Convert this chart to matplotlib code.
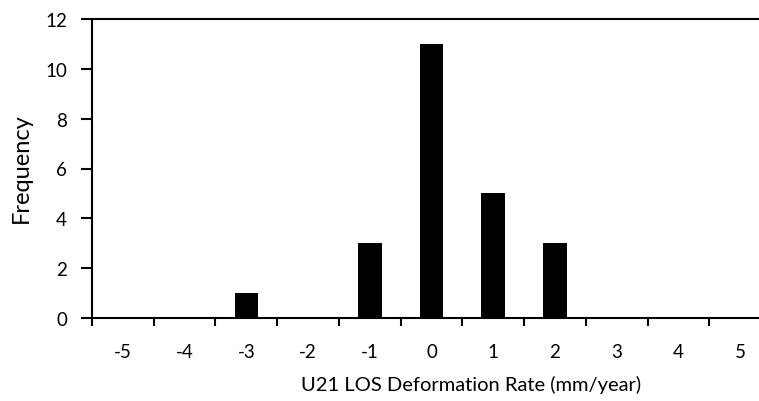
import matplotlib
matplotlib.use("Agg")
import matplotlib.pyplot as plt
import numpy as np

categories = ["-5", "-4", "-3", "-2", "-1", "0", "1", "2", "3", "4", "5"]
frequency = [0, 0, 1, 0, 3, 11, 5, 3, 0, 0, 0]

plt.rcParams['font.family'] = ['Lato', 'DejaVu Sans']

fig = plt.figure(figsize=(7.59, 4.02), dpi=100)
L, R, T, B = 92, 771, 20, 319
ax = fig.add_axes([L/759, 1 - B/402, (R - L)/759, (B - T)/402])

x = np.arange(len(categories))
ax.bar(x, frequency, width=0.38, color='black')

ax.set_xlim(-0.5, len(categories) - 0.5)
ax.set_ylim(0, 12)
ax.set_yticks(range(0, 13, 2))
ax.set_xticks(x)
ax.set_xticklabels(categories)
ax.set_xticks(np.arange(-0.5, len(categories), 1.0), minor=True)
ax.tick_params(axis='x', which='major', length=0, pad=18, labelsize=13.5)
ax.tick_params(axis='x', which='minor', length=6, width=1.5, direction='out')
ax.tick_params(axis='y', length=8, width=1.5, direction='out', labelsize=13.5, pad=10)

for s in ax.spines.values():
    s.set_linewidth(1.5)

xl = ax.set_xlabel("U21 LOS Deformation Rate (mm/year)", fontsize=14.5)
xl.set_va('center')
ax.xaxis.set_label_coords((471 - L)/(R - L), (B - 385)/(B - T))
yl = ax.set_ylabel("Frequency", fontsize=17)
yl.set_va('center')
ax.yaxis.set_label_coords((21 - L)/(R - L), (B - 168)/(B - T))

fig.savefig("out.png", dpi=100)
